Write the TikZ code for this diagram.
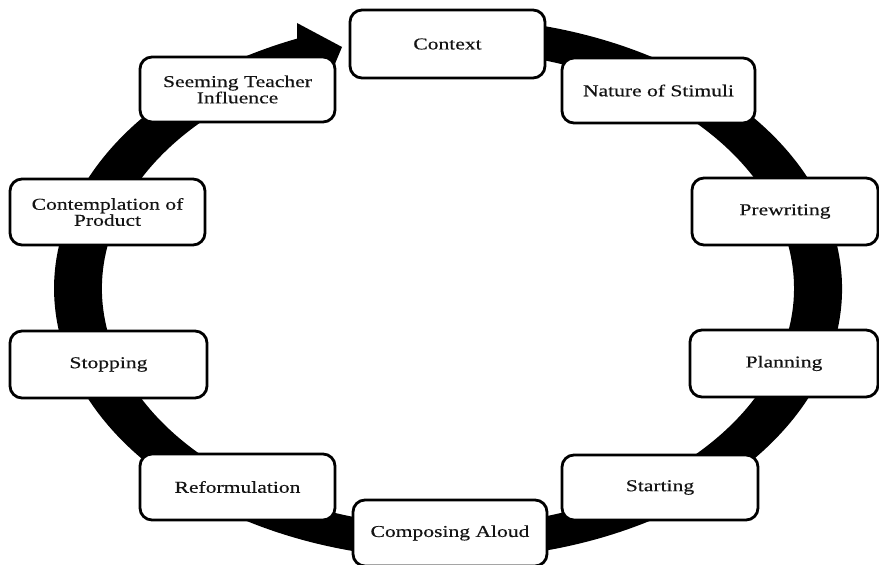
\documentclass[tikz,border=0pt]{standalone}
\usepackage{fontspec}
\setmainfont[FakeStretch=1.3,FakeBold=0.4]{Liberation Serif}
\begin{document}
\begin{tikzpicture}[x=1pt,y=1pt,
  stage/.style={draw=black, line width=2.8pt, rounded corners=12pt, fill=white,
    minimum width=195pt, minimum height=66pt, inner sep=0pt, align=center,
    text=black!92, font=\fontsize{16.6}{15}\selectfont}]
\useasboundingbox (0,0) rectangle (879,565);
\fill[white] (0,0) rectangle (879,565);
% ring with arrowhead
\fill[black] (413.7,546) arc[start angle=95, end angle=-247.47, x radius=394, y radius=270.5]
  -- (297,542) -- (342,518) -- (322,470) -- (315.4,495.9)
  arc[start angle=112.53, end angle=455, x radius=346, y radius=237.5] -- cycle;
% stages
\node[stage, minimum height=68pt] (context) at (447.5,521) {Context};
\node[stage, minimum width=193pt, minimum height=65pt] (nature) at (658.5,474.5) {Nature of Stimuli};
\node[stage, minimum width=186pt, minimum height=67pt] (prewriting) at (785,353.5) {Prewriting};
\node[stage, minimum width=188pt, minimum height=67pt] (planning) at (784,201.5) {Planning};
\node[stage, minimum width=196pt, minimum height=65pt] (starting) at (660,77.5) {Starting};
\node[stage, minimum width=194pt] (composing) at (450,32) {Composing Aloud};
\node[stage] (reformulation) at (237.5,78) {Reformulation};
\node[stage, minimum width=197pt, minimum height=67pt] (stopping) at (108.5,200.5) {Stopping};
\node[stage] (contemplation) at (107.5,353) {Contemplation of\\Product};
\node[stage, minimum height=65pt] (seeming) at (237.5,475.5) {Seeming Teacher\\Influence};
\end{tikzpicture}
\end{document}
